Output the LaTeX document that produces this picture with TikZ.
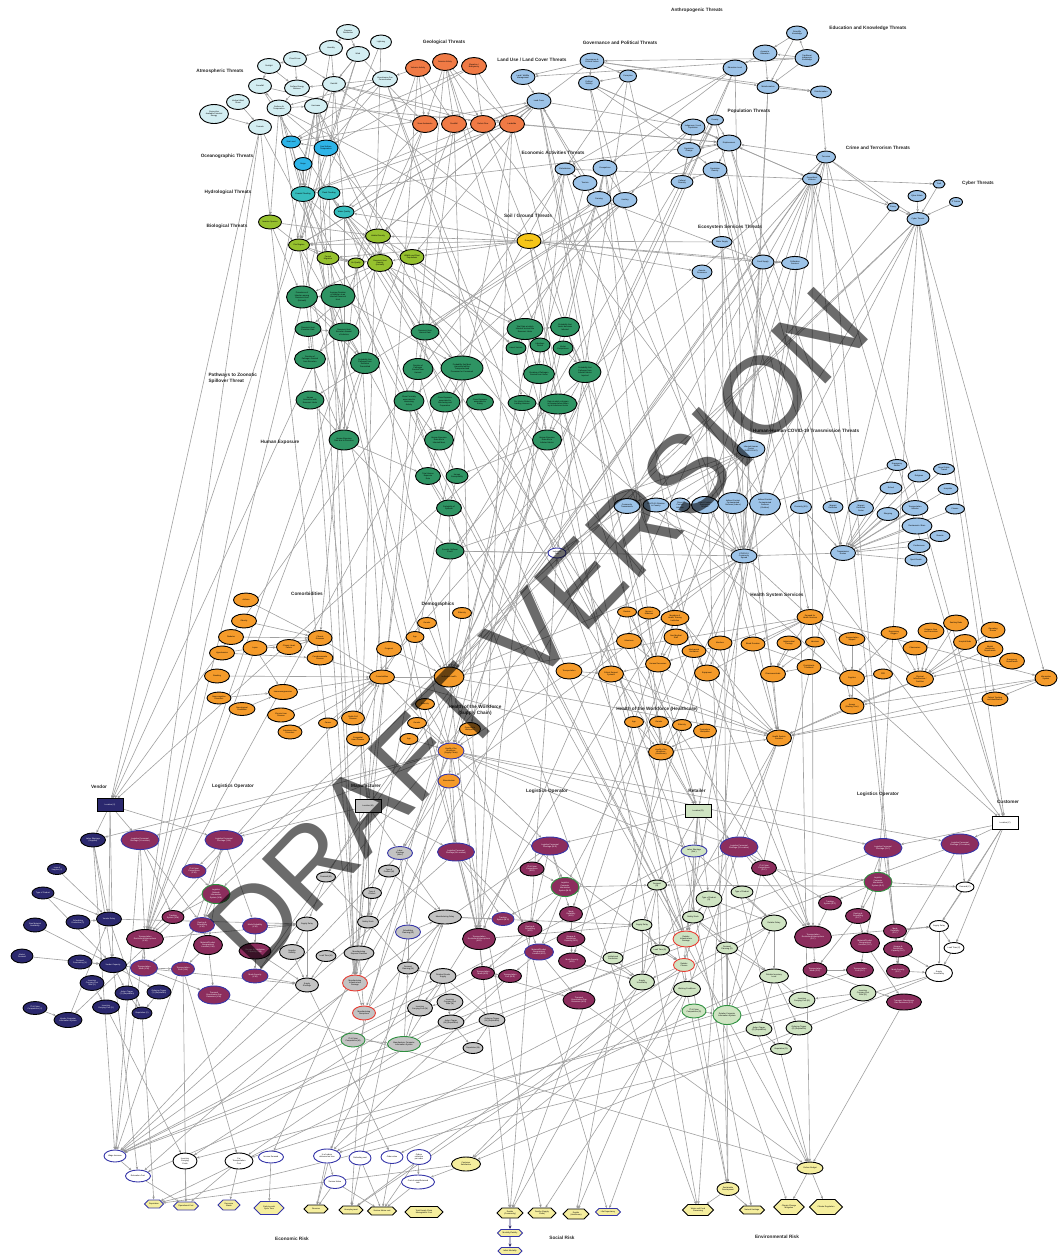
\documentclass[tikz,border=0pt]{standalone}
\usepackage{fontspec}
\setmainfont{Liberation Sans}
\usepackage{tikz}
\usetikzlibrary{shapes.geometric, shapes.symbols, arrows.meta, backgrounds}

\definecolor{atmc}{HTML}{D3EEF2}
\definecolor{geoc}{HTML}{F07A45}
\definecolor{ocec}{HTML}{2DB4E8}
\definecolor{hydc}{HTML}{36BDBD}
\definecolor{bioc}{HTML}{96C12E}
\definecolor{soilc}{HTML}{F5C518}
\definecolor{zooc}{HTML}{2E9463}
\definecolor{antc}{HTML}{9CC3E8}
\definecolor{hltc}{HTML}{F59B2A}
\definecolor{venc}{HTML}{2B286E}
\definecolor{lgoc}{HTML}{8C2D5D}
\definecolor{manc}{HTML}{C3C3C3}
\definecolor{retc}{HTML}{CFE4C2}
\definecolor{rskc}{HTML}{F5EE9E}
\definecolor{edgec}{HTML}{A0A0A0}
\definecolor{bluebd}{HTML}{3535A8}
\definecolor{redbd}{HTML}{E83A30}
\definecolor{greenbd}{HTML}{2E9040}

\begin{document}
\begin{tikzpicture}[
        x=1pt, y=-1pt,
        font=\fontsize{2}{2.4}\selectfont,
        nd/.style = {ellipse, draw=black, line width=0.9pt, inner sep=0pt, align=center, minimum width=23pt, minimum height=15pt},
        sz/.style 2 args = {minimum width=#1pt, minimum height=#2pt},
        atm/.style = {nd, fill=atmc},
        geo/.style = {nd, fill=geoc, sz={25}{17}},
        oce/.style = {nd, fill=ocec},
        hyd/.style = {nd, fill=hydc},
        bio/.style = {nd, fill=bioc},
        soil/.style = {nd, fill=soilc},
        zoo/.style = {nd, fill=zooc},
        ant/.style = {nd, fill=antc},
        hlt/.style = {nd, fill=hltc},
        ven/.style = {nd, fill=venc, text=white},
        lgo/.style = {nd, fill=lgoc, text=white},
        man/.style = {nd, fill=manc},
        ret/.style = {nd, fill=retc},
        cus/.style = {nd, fill=white},
        rsk/.style = {nd, fill=rskc},
        bb/.style = {draw=bluebd},
        rb/.style = {draw=redbd},
        gb/.style = {draw=greenbd},
        hexa/.style = {signal, signal to=east and west, draw=black, line width=0.9pt, fill=rskc, inner sep=0.6pt, align=center},
        locbox/.style = {rectangle, draw=black, line width=0.9pt, minimum width=26pt, minimum height=13pt, inner sep=0pt},
        ttl/.style = {font=\fontsize{4.7}{5.6}\selectfont\bfseries, text=black!85, align=center},
        line/.style = {draw=edgec, line width=0.6pt, -{Stealth[length=3pt, width=2.4pt]}},
        navyline/.style = {draw=venc, line width=0.9pt, -{Stealth[length=3.5pt, width=3pt]}},
        watermark/.style = {font=\fontsize{110}{110}\selectfont, text=black, text opacity=0.58, rotate=46}
    ]
    \useasboundingbox (0,0) rectangle (1058,1256);

    % Threat titles
    \node [ttl] (t_anth) at (697,10) {Anthropogenic Threats};
    \node [ttl] (t_atm) at (220,71) {Atmospheric Threats};
    \node [ttl] (t_geo) at (444,42) {Geological Threats};
    \node [ttl] (t_land) at (532,60) {Land Use / Land Cover Threats};
    \node [ttl] (t_gov) at (620,43) {Governance and Political Threats};
    \node [ttl] (t_edu) at (868,28) {Education and Knowledge Threats};
    \node [ttl] (t_pop) at (749,111) {Population Threats};
    \node [ttl] (t_oce) at (227,156) {Oceanographic Threats};
    \node [ttl] (t_eco) at (553,153) {Economic Activities Threats};
    \node [ttl] (t_crime) at (878,148) {Crime and Terrorism Threats};
    \node [ttl] (t_cyber) at (978,183) {Cyber Threats};
    \node [ttl] (t_hyd) at (228,192) {Hydrological Threats};
    \node [ttl] (t_soil) at (528,216) {Soil / Ground Threats};
    \node [ttl] (t_bio) at (227,226) {Biological Threats};
    \node [ttl] (t_ess) at (730,227) {Ecosystem Services Threats};
    \node [ttl, align=left, anchor=west] (t_zoo) at (205,378) {Pathways to Zoonotic\\Spillover Threat};
    \node [ttl] (t_hexp) at (280,442) {Human Exposure};
    \node [ttl] (t_covid) at (806,431) {Human-Human COVID-19 Transmission Threats};
    \node [ttl] (t_comorb) at (307,594) {Comorbidities};
    \node [ttl] (t_demo) at (438,604) {Demographics};
    \node [ttl] (t_hss) at (777,595) {Health System Services};
    \node [ttl] (t_hwsc) at (475,710) {Health of the Workforce\\(Supply Chain)};
    \node [ttl] (t_hwhc) at (657,709) {Health of the Workforce (Healthcare)};
    \node [ttl] (t_vend) at (99,787) {Vendor};
    \node [ttl] (t_lo1) at (233,786) {Logistics Operator};
    \node [ttl] (t_manu) at (366,786) {Manufacturer};
    \node [ttl] (t_lo2) at (547,791) {Logistics Operator};
    \node [ttl] (t_retl) at (697,791) {Retailer};
    \node [ttl] (t_lo3) at (878,794) {Logistics Operator};
    \node [ttl] (t_cust) at (1008,802) {Customer};
    \node [ttl] (t_econ) at (292,1239) {Economic Risk};
    \node [ttl] (t_soc) at (562,1238) {Social Risk};
    \node [ttl] (t_env) at (777,1237) {Environmental Risk};

    % Atmospheric
    \node [atm] (pres) at (348,32) {Pressure\\Distribution};
    \node [atm, sz={21}{14}] (light) at (381,42) {Lightning};
    \node [atm] (humid) at (331,48) {Humidity};
    \node [atm] (wind) at (358,54) {Wind};
    \node [atm] (cloud) at (295,59) {Cloud Cover};
    \node [atm] (sun) at (269,66) {Sunlight};
    \node [atm] (rain) at (334,84) {Rainfall};
    \node [atm, sz={25}{16}] (ghg) at (385,79) {Greenhouse Gas\\Concentration};
    \node [atm] (snow) at (260,86) {Snowfall};
    \node [atm, sz={25}{16}] (seb) at (297,88) {Surface Energy\\Balance};
    \node [atm] (hurr) at (316,106) {Hurricane};
    \node [atm, sz={24}{16}] (sat) at (279,108) {Surface Air\\Temperature};
    \node [atm] (vws) at (238,102) {Vertical Wind\\Shear};
    \node [atm, sz={29}{19}] (cape) at (214,114) {Convective\\Available Potential\\Energy};
    \node [atm] (torn) at (260,127) {Tornado};

    % Geological
    \node [geo] (volc) at (418,68) {Volcanic Activity};
    \node [geo] (seis) at (445,62) {Seismic Activity};
    \node [geo] (elev) at (474,66) {Elevation /\\Bathymetry};
    \node [geo] (aval) at (425,124) {Snow Avalanche};
    \node [geo] (rockf) at (454,124) {Rockfall};
    \node [geo] (debris) at (483,124) {Debris Flow};
    \node [geo] (lslide) at (512,124) {Landslide};

    % Oceanographic, hydrological, biological, soil
    \node [oce, sz={19}{12}] (slevel) at (291,142) {Sea Level};
    \node [oce, sz={24}{16}] (sst) at (326,148) {Sea Surface\\Temperature};
    \node [oce, sz={18}{13}] (surge) at (303,164) {Surge};
    \node [hyd, sz={24}{15}] (cflood) at (303,194) {Coastal Flooding};
    \node [hyd, sz={22}{13}] (fflood) at (329,193) {Flash Flooding};
    \node [hyd, sz={20}{12}] (wqual) at (344,212) {Water Quality};
    \node [bio, sz={23}{14}] (invas) at (270,222) {Invasive Species};
    \node [bio, sz={21}{12}] (fire) at (299,245) {Fire Regime};
    \node [bio, sz={25}{14}] (habit) at (378,236) {Habitat Density};
    \node [bio, sz={22}{13}] (faunal) at (328,258) {Faunal\\Migration};
    \node [bio, sz={16}{10}] (airq) at (356,263) {Air Quality};
    \node [bio, sz={25}{17}] (rhost) at (380,263) {Reservoir Host\\Density\\(Animals)};
    \node [bio, sz={24}{15}] (wildpop) at (412,257) {Wildlife and Plant\\Populations};
    \node [soil, sz={24}{15}] (drought) at (529,241) {Droughts};

    % Pathways to zoonotic spillover
    \node [zoo, sz={31}{22}] (previnf) at (302,297) {Prevalence of\\Infection among\\Reservoir Host\\(Animals)};
    \node [zoo, sz={34}{23}] (durinf) at (338,296) {Average Duration\\of Infection in an\\Infected Reservoir\\Host};
    \node [zoo, sz={26}{15}] (rhexcr) at (308,329) {Reservoir Host\\Excretion Rate};
    \node [zoo, sz={30}{18}] (rhexcr2) at (344,332) {Reservoir Host\\Excretion Amount\\of Infection};
    \node [zoo, sz={28}{16}] (rhharv) at (425,332) {Reservoir Host\\Harvest Rate};
    \node [zoo, sz={36}{21}] (totrate) at (525,329) {Total Rate at which\\Infected Vectors Bite\\Reservoir Hosts};
    \node [zoo, sz={29}{19}] (probinf) at (565,327) {Probability that\\Vector becomes\\Infected};
    \node [zoo, sz={20}{13}] (insvec) at (516,348) {Insect Vectors};
    \node [zoo, sz={20}{14}] (infper) at (540,345) {Infectious\\Period};
    \node [zoo, sz={20}{14}] (veccomp) at (563,348) {Vector\\Competence};
    \node [zoo, sz={31}{19}] (survexc) at (310,359) {Duration of\\Pathogen Survival\\from Excretion};
    \node [zoo, sz={29}{21}] (probexc) at (365,363) {Probability that\\Pathogen from\\Excretion\\Transmitted};
    \node [zoo, sz={30}{21}] (survharv) at (418,369) {Duration of\\Pathogen\\Survival from\\Harvest};
    \node [zoo, sz={42}{24}] (probmeat) at (462,368) {Probability that Meat\\Harvested will be\\Transported and\\Processed or Consumed};
    \node [zoo, sz={31}{19}] (survvec) at (539,374) {Duration of Pathogen\\Survival from Vector};
    \node [zoo, sz={32}{21}] (probvec) at (585,372) {Probability that\\Pathogen from\\Infected Vector\\Injected};
    \node [zoo, sz={28}{18}] (humint) at (310,400) {Human\\Interaction with\\Reservoir Hosts};
    \node [zoo, sz={30}{20}] (proxharv) at (409,401) {Close Proximity\\associated to\\Harvesting\\Activity};
    \node [zoo, sz={30}{20}] (expbutch) at (445,402) {Close Exposure\\associated to\\Butchering and\\Preparation};
    \node [zoo, sz={27}{16}] (expeat) at (480,402) {Close Exposure\\associated to\\Eating};
    \node [zoo, sz={28}{15}] (vecland) at (522,403) {Per Vector Probe\\Landing Humans};
    \node [zoo, sz={38}{20}] (ratebite) at (558,404) {Rate at which a Human\\is Exposed when Bitten\\by an Infectious Vector};
    \node [zoo, sz={30}{20}] (hexexc) at (344,440) {Human Exposure\\Rate due to Excretion};
    \node [zoo, sz={29}{20}] (hexmeat) at (439,440) {Human Exposure\\Rate due to\\Infected Meat};
    \node [zoo, sz={29}{20}] (hexvec) at (547,440) {Human Exposure\\Rate due to\\Infected Vector};
    \node [zoo, sz={25}{17}] (hexall1) at (428,476) {Total Human\\Exposure\\Rate};
    \node [zoo, sz={22}{15}] (hexall2) at (457,476) {Human\\Susceptibility};
    \node [zoo, sz={25}{16}] (spillprob) at (449,508) {Probability of\\Spillover};
    \node [zoo, sz={28}{16}] (spillover) at (450,551) {Zoonotic Spillover\\Event};

    % Anthropogenic threats
    \node [ant, sz={24}{15}] (landmgmt) at (523,77) {Land / Wildlife\\Management};
    \node [ant, sz={24}{16}] (landcov) at (539,101) {Land Cover};
    \node [ant, sz={24}{16}] (govval) at (592,61) {Governance \&\\Cultural Values};
    \node [ant, sz={21}{14}] (polstab) at (589,83) {Political\\Stability};
    \node [ant, sz={17}{12}] (corrupt) at (628,76) {Corruption};
    \node [ant, sz={21}{14}] (scik) at (797,33) {Scientific\\Knowledge};
    \node [ant, sz={24}{16}] (accedu) at (765,53) {Access to\\Education};
    \node [ant, sz={24}{17}] (tik) at (807,58) {Traditional\\Indigenous\\Knowledge};
    \node [ant, sz={24}{16}] (edulvl) at (735,68) {Education Level};
    \node [ant, sz={22}{13}] (misinf) at (768,87) {Misinformation};
    \node [ant, sz={21}{12}] (disinf) at (821,92) {Disinformation};
    \node [ant, sz={24}{16}] (indig) at (693,127) {Indigenous / Local\\Population};
    \node [ant, sz={17}{10}] (poverty) at (715,120) {Poverty};
    \node [ant, sz={24}{16}] (displ) at (729,143) {Displacement};
    \node [ant, sz={23}{15}] (popchg) at (689,150) {Population\\Change};
    \node [ant, sz={24}{16}] (popden) at (715,170) {Population\\Density};
    \node [ant, sz={22}{13}] (cultdiv) at (682,182) {Cultural\\Diversity};
    \node [ant, sz={20}{12}] (global) at (565,169) {Globalization};
    \node [ant, sz={24}{16}] (occup) at (605,168) {Occupations};
    \node [ant, sz={24}{15}] (tourism) at (585,183) {Tourism};
    \node [ant, sz={24}{15}] (farming) at (599,199) {Farming};
    \node [ant, sz={24}{15}] (hunting) at (625,200) {Hunting};
    \node [ant, sz={19}{12}] (terror) at (826,157) {Terrorism};
    \node [ant, sz={19}{12}] (geoviol) at (812,179) {Geopolitical\\Violence};
    \node [ant, sz={12}{8}] (piracy) at (893,207) {Piracy};
    \node [ant, sz={12}{8}] (theft) at (939,184) {Theft};
    \node [ant, sz={18}{11}] (cyatt) at (917,196) {Cyber Attack};
    \node [ant, sz={13}{9}] (itfail) at (956,202) {IT Failure};
    \node [ant, sz={22}{13}] (cyber) at (918,219) {Cyber Threats};
    \node [ant, sz={20}{11}] (watsup) at (722,242) {Water Supply};
    \node [ant, sz={20}{14}] (genres) at (702,272) {Genetic\\Resources};
    \node [ant, sz={22}{14}] (foodsup) at (763,262) {Food Supply};
    \node [ant, sz={27}{13}] (pollin) at (795,263) {Pollination\\Services};

    % Human-human COVID-19 transmission
    \node [ant, sz={28}{17}] (carrier) at (751,449) {Infected Human\\Carrier\\(SARS-CoV-2)};
    \node [ant, sz={20}{11}] (shelter) at (897,465) {Emergency\\Shelter};
    \node [ant, sz={22}{12}] (religious) at (919,476) {Religious};
    \node [ant, sz={21}{11}] (transit) at (944,469) {Street Public\\Transit};
    \node [ant, sz={22}{12}] (school) at (891,488) {School};
    \node [ant, sz={20}{11}] (hospitals) at (948,489) {Hospitals};
    \node [ant, sz={26}{15}] (commtr) at (627,506) {Community\\Transmission};
    \node [ant, sz={26}{14}] (covsit) at (656,505) {COVID-19 Situation\\in Country};
    \node [ant, sz={20}{14}] (direct) at (680,505) {Direct\\Contact\\Infection};
    \node [ant, sz={27}{17}] (droplet) at (705,505) {Direct Contact\\Respiratory\\Droplets};
    \node [ant, sz={30}{21}] (indoor) at (733,503) {Indirect Contact\\Contaminated\\Surfaces (Indoor)};
    \node [ant, sz={31}{22}] (outdoor) at (765,504) {Indirect Contact\\Contaminated\\Surfaces\\(Outdoor)};
    \node [ant, sz={21}{13}] (prox) at (801,507) {Proximity (6 ft)};
    \node [ant, sz={20}{12}] (migdet) at (833,507) {Migrant\\Detention};
    \node [ant, sz={25}{15}] (migctr) at (861,508) {Migrant\\Detention\\Center};
    \node [ant, sz={22}{13}] (shopping) at (888,514) {Shopping};
    \node [ant, sz={26}{15}] (transveh) at (915,508) {Transportation\\Vehicles};
    \node [ant, sz={19}{10}] (prisons) at (955,509) {Prisons};
    \node [ant, sz={30}{16}] (restbars) at (917,526) {Restaurants / Bars};
    \node [ant, sz={20}{11}] (remote) at (940,536) {Remote};
    \node [ant, sz={22}{13}] (conf) at (919,546) {Conferences};
    \node [ant, sz={22}{12}] (sport) at (916,560) {Sport Events};
    \node [ant, sz={25}{15}] (routes) at (843,553) {Transmission\\Routes};
    \node [ant, sz={26}{14}] (community) at (744,556) {COVID-19\\Community\\Spread};
    \node [cus, bb, sz={18}{10}] (indiv) at (557,553) {Individual\\Risk};

    % Comorbidities and demographics
    \node [hlt, sz={25}{14}] (asthma) at (246,600) {Asthma};
    \node [hlt, sz={25}{14}] (obesity) at (244,621) {Obesity};
    \node [hlt, sz={25}{15}] (diabetes) at (231,637) {Diabetes};
    \node [hlt, sz={24}{15}] (lupus) at (255,648) {Lupus};
    \node [hlt, sz={25}{14}] (hypert) at (222,653) {Hypertension};
    \node [hlt, sz={25}{15}] (chf) at (289,647) {Chronic Heart\\Failure};
    \node [hlt, sz={24}{15}] (chronic) at (320,638) {Chronic\\Diseases};
    \node [hlt, sz={26}{14}] (cerebro) at (320,658) {Cerebrovascular\\Disease};
    \node [hlt, sz={25}{14}] (smoking) at (217,676) {Smoking};
    \node [hlt, sz={25}{14}] (comorb) at (382,677) {Comorbidities};
    \node [hlt, sz={29}{15}] (immuno) at (283,692) {Immunosuppression};
    \node [hlt, sz={24}{12}] (neurocog) at (219,698) {Neurocognitive\\Disorders};
    \node [hlt, sz={26}{13}] (neuro) at (242,709) {Neurological\\Conditions};
    \node [hlt, sz={27}{14}] (liver) at (281,715) {Chronic Liver\\Disease};
    \node [hlt, sz={24}{14}] (substance) at (290,732) {Substance Use\\Disorders};
    \node [hlt, sz={19}{10}] (cancer) at (328,723) {Cancer};
    \node [hlt, sz={23}{14}] (sickle) at (353,718) {Sickle Cell\\Disease};
    \node [hlt, sz={23}{14}] (congen) at (358,739) {Congenital\\Heart Disease};
    \node [hlt, sz={19}{11}] (ethn1) at (462,613) {Ethnicity};
    \node [hlt, sz={19}{11}] (gender1) at (427,623) {Gender};
    \node [hlt, sz={18}{11}] (age1) at (415,637) {Age};
    \node [hlt, sz={25}{15}] (pregnant) at (389,649) {Pregnant};
    \node [hlt, sz={30}{20}] (indhealth) at (449,677) {Individual Health};
    \node [hlt, sz={19}{11}] (ethn2) at (425,704) {Ethnicity};
    \node [hlt, sz={19}{11}] (gender2) at (417,723) {Gender};
    \node [hlt, sz={18}{11}] (age2) at (409,739) {Age};
    \node [hlt, sz={21}{13}] (proxwork) at (470,729) {Proximity to\\Workplace};
    \node [hlt, bb, sz={26}{16}] (hwsc) at (451,751) {Health of the\\Workforce\\(Supply Chain)};
    \node [hlt, bb, sz={22}{14}] (absent) at (449,781) {Absenteeism};

    % Health system services
    \node [hlt, sz={26}{16}] (transp) at (569,671) {Transportation};
    \node [hlt, sz={25}{16}] (critsup) at (611,674) {Critical Support\\Systems};
    \node [hlt, sz={19}{10}] (doctors) at (627,612) {Doctors};
    \node [hlt, sz={22}{12}] (nurses) at (649,613) {Nurses /\\Midwives};
    \node [hlt, sz={28}{15}] (members) at (675,618) {Members of\\Health Training\\Institution};
    \node [hlt, sz={25}{15}] (volunt) at (629,641) {Volunteers};
    \node [hlt, sz={24}{16}] (nonmed) at (676,637) {Non-Medical\\Staff};
    \node [hlt, sz={24}{13}] (ventil) at (694,651) {Mechanical\\Ventilators};
    \node [hlt, sz={24}{14}] (monitors) at (720,643) {Monitors};
    \node [hlt, sz={25}{16}] (humres) at (658,664) {Human Resources};
    \node [hlt, sz={25}{16}] (equip) at (707,673) {Equipment};
    \node [hlt, sz={24}{14}] (blood) at (753,644) {Blood Donation};
    \node [hlt, sz={26}{15}] (demand) at (810,617) {Demand for\\Health Services};
    \node [hlt, sz={24}{14}] (antimic) at (789,643) {Antimicrobial\\Therapy};
    \node [hlt, sz={19}{10}] (vaccines) at (815,642) {Vaccines};
    \node [hlt, sz={24}{15}] (prophyl) at (809,667) {Prophylactic\\Treatment};
    \node [hlt, sz={25}{16}] (pharma) at (773,674) {Pharmaceuticals};
    \node [hlt, sz={26}{13}] (transsup) at (852,639) {Transportation\\Support};
    \node [hlt, sz={25}{16}] (supplies) at (852,678) {Supplies};
    \node [hlt, sz={19}{10}] (ppe) at (883,674) {PPE};
    \node [hlt, sz={24}{16}] (access) at (852,706) {Access\\(Waiting Time)};
    \node [hlt, sz={26}{13}] (oxygen) at (894,633) {Respiratory\\Oxygen};
    \node [hlt, sz={26}{16}] (distance) at (931,631) {Distance Care\\and Prevention};
    \node [hlt, sz={25}{16}] (beds) at (956,623) {Sanitary Beds};
    \node [hlt, sz={24}{14}] (pharmacies) at (915,648) {Pharmacies};
    \node [hlt, sz={23}{15}] (hospbeds) at (965,642) {Hospital Beds};
    \node [hlt, sz={24}{16}] (oprooms) at (993,630) {Operating\\Rooms};
    \node [hlt, sz={26}{16}] (mental) at (990,649) {Mental\\Healthcare\\Departments};
    \node [hlt, sz={25}{16}] (emerg) at (1012,661) {Emergency\\Departments};
    \node [hlt, sz={27}{16}] (physinf) at (920,679) {Physical\\Infrastructure /\\Facilities};
    \node [hlt, sz={22}{16}] (infosys) at (1046,678) {Information\\System};
    \node [hlt, sz={26}{14}] (patient) at (995,699) {Patient Tracking\\and Identification};
    \node [hlt, sz={25}{16}] (hss) at (779,738) {Health System\\Services};
    \node [hlt, sz={19}{11}] (age3) at (634,722) {Age};
    \node [hlt, sz={19}{11}] (gender3) at (659,722) {Gender};
    \node [hlt, sz={19}{11}] (ethn3) at (682,725) {Ethnicity};
    \node [hlt, sz={23}{14}] (proxwork2) at (705,731) {Proximity to\\Workplace};
    \node [hlt, sz={25}{16}] (hwhc) at (661,752) {Health of the\\Workforce\\(Healthcare)};

    % Vendor
    \node [locbox, fill=venc, text=white] (locv) at (110,805) {Location (V)};
    \node [ven, sz={25}{14}] (labsup) at (93,840) {Labor Shortage\\(Supplier)};
    \node [ven, sz={19}{11}] (vloss) at (57,869) {Loss of\\Supplier (V)};
    \node [ven, sz={22}{12}] (vtype) at (43,893) {Type of Product};
    \node [ven, sz={23}{14}] (vraw) at (35,925) {Raw Material\\Availability};
    \node [ven, sz={24}{14}] (vnear) at (78,922) {Scheduling\\Production (V)};
    \node [ven, sz={25}{14}] (vdelay) at (109,919) {Vendor Delay};
    \node [ven, sz={22}{14}] (vmkt) at (22,956) {Market\\Demand};
    \node [ven, sz={24}{14}] (vdem) at (80,962) {Demand\\Forecasting (V)};
    \node [ven, sz={27}{15}] (vcap) at (113,965) {Vendor Capacity};
    \node [ven, sz={24}{15}] (vicr) at (92,983) {Inventory\\Carrying Cost\\Rate (V)};
    \node [ven, sz={27}{14}] (vicc) at (106,1007) {Inventory\\Carrying Cost (V)};
    \node [ven, sz={24}{14}] (vact) at (127,993) {Action Trigger\\(V) (Reputation)};
    \node [ven, sz={24}{14}] (vord) at (159,992) {Ordering Trigger\\(V) (Reputation)};
    \node [ven, sz={20}{12}] (vrep) at (142,1013) {Reputation (V)};
    \node [ven, sz={24}{13}] (vit) at (35,1008) {IT \& Cyber\\Competence (V)};
    \node [ven, sz={28}{15}] (vcis) at (68,1020) {Vendor Computer\\Information System};

    % Logistics operator (vendor - manufacturer)
    \node [lgo, bb, sz={38}{19}] (lpsv) at (140,840) {Logistics Personnel\\Shortage (V-Location)};
    \node [lgo, bb, sz={38}{19}] (lpsvm) at (224,840) {Logistics Personnel\\Shortage (V-M)};
    \node [lgo, bb, sz={24}{14}] (itvm) at (194,871) {IT \& Cyber\\Competence\\(V-M)};
    \node [lgo, gb, sz={28}{19}] (lnvm) at (216,894) {Logistics\\Network\\Information\\System (V-M)};
    \node [lgo, sz={22}{13}] (tsvm) at (173,917) {Tracking\\System (V-M)};
    \node [lgo, bb, sz={25}{15}] (rsvm) at (202,925) {Routing \&\\Scheduling\\(V-M)};
    \node [lgo, bb, sz={25}{16}] (mrvm) at (255,926) {Mode Reliability\\(V-M)};
    \node [lgo, sz={37}{19}] (trvm) at (145,939) {Transportation\\Restrictions/Interruptions\\(V-M)};
    \node [lgo, sz={29}{19}] (mgvm) at (208,945) {Material/Product\\Geographical\\Location (V-M)};
    \node [lgo, sz={32}{16}] (sdvm) at (255,951) {Storage \& Distribution\\Capacity (V-M)};
    \node [lgo, bb, sz={27}{16}] (tmvm) at (144,968) {Transportation\\Mode (V-M)};
    \node [lgo, bb, sz={23}{14}] (tcvm) at (183,969) {Transportation\\Cost (V-M)};
    \node [lgo, bb, sz={26}{14}] (msvm) at (255,976) {Mode Security\\(V-M)};
    \node [lgo, bb, sz={32}{18}] (ghgvm) at (214,995) {Transport\\Greenhouse Gas\\Emissions (V-M)};

    % Manufacturer
    \node [locbox, fill=manc] (locm) at (368,806) {Location (M)};
    \node [man, bb, sz={25}{13}] (labman) at (400,853) {Labor\\Shortage\\(Man.)};
    \node [man, sz={21}{12}] (mtype) at (389,871) {Type of\\Product (M)};
    \node [man, sz={19}{10}] (mdem) at (326,877) {Demand (M)};
    \node [man, sz={19}{11}] (mtype2) at (372,893) {Type of\\Product};
    \node [man, sz={22}{14}] (msupdel) at (307,924) {Supply Delay};
    \node [man, sz={21}{12}] (mss) at (368,922) {Safety Stock};
    \node [man, bb, sz={25}{14}] (msched) at (408,932) {Scheduling\\Planning (M)};
    \node [man, sz={25}{15}] (msupvis) at (292,952) {Supplier\\Visibility};
    \node [man, sz={20}{11}] (mlead) at (326,956) {Lead Time (M)};
    \node [man, sz={30}{14}] (mdisp) at (359,953) {Manufacturing\\Disposal Practices};
    \node [man, sz={21}{12}] (mdplan) at (408,968) {Demand\\Planning (M)};
    \node [man, sz={23}{14}] (msupshort) at (307,985) {Supply\\Shortage};
    \node [man, rb, sz={25}{16}] (minfra) at (355,983) {Manufacturing\\Infrastructure\\Damage};
    \node [man, rb, sz={23}{14}] (mdisr) at (364,1013) {Manufacturing\\Disruptions};
    \node [man, sz={25}{16}] (micc) at (420,1008) {Inventory\\Carrying Cost (M)};
    \node [man, sz={26}{16}] (micr) at (450,1002) {Inventory\\Carrying Cost\\Rate (M)};
    \node [man, sz={26}{14}] (mact) at (451,1022) {Action Trigger\\(M) (Reputation)};
    \node [man, sz={26}{13}] (mord) at (492,1020) {Ordering Trigger\\(M) (Reputation)};
    \node [man, sz={20}{11}] (mrep) at (473,1048) {Reputation (M)};
    \node [man, gb, sz={24}{14}] (mit) at (353,1040) {IT \& Cyber\\Competence (M)};
    \node [man, gb, sz={33}{15}] (mcis) at (404,1044) {Manufacturer Computer\\Information System};
    \node [man, sz={33}{14}] (mdelay) at (445,917) {Manufacturing Delay};
    \node [man, sz={26}{15}] (mfg) at (443,976) {Finished Goods\\Supply};

    % Logistics operator (manufacturer - retailer)
    \node [lgo, bb, sz={37}{18}] (lpsm) at (456,852) {Logistics Personnel\\Shortage (M-Location)};
    \node [lgo, bb, sz={37}{18}] (lpsmr) at (550,846) {Logistics Personnel\\Shortage (M-R)};
    \node [lgo, sz={24}{14}] (itmr) at (532,869) {IT \& Cyber\\Competence\\(M-R)};
    \node [lgo, gb, sz={28}{19}] (lnmr) at (565,887) {Logistics\\Computer\\Information\\System (M-R)};
    \node [lgo, bb, sz={22}{13}] (tsmr) at (503,919) {Tracking\\System (M-R)};
    \node [lgo, sz={23}{15}] (mrmr) at (571,914) {Mode\\Reliability\\(M-R)};
    \node [lgo, sz={24}{15}] (rsmr) at (530,929) {Routing \&\\Scheduling\\(M-R)};
    \node [lgo, sz={33}{21}] (trmr) at (479,939) {Transportation\\Restrictions/Interruptions\\(M-R)};
    \node [lgo, sz={28}{15}] (sdmr) at (571,939) {Storage \&\\Distribution\\Capacity (M-R)};
    \node [lgo, bb, sz={29}{16}] (mgmr) at (539,952) {Material/Product\\Geographical\\Location (M-R)};
    \node [lgo, sz={27}{16}] (msmr) at (572,961) {Mode Security\\(M-R)};
    \node [lgo, sz={23}{13}] (tmmr) at (483,973) {Transportation\\Mode (M-R)};
    \node [lgo, sz={23}{13}] (tcmr) at (510,976) {Transportation\\Cost (M-R)};
    \node [lgo, sz={32}{18}] (ghgmr) at (579,1000) {Transport\\Greenhouse Gas\\Emissions (M-R)};

    % Retailer
    \node [locbox, fill=retc] (locr) at (698,811) {Location (R)};
    \node [ret, bb, sz={26}{12}] (labret) at (694,851) {Labor Shortage\\(Ret.)};
    \node [ret, sz={19}{10}] (rdem) at (657,885) {Demand\\(R)};
    \node [ret, sz={26}{16}] (rtype) at (709,899) {Type of Product\\(R)};
    \node [ret, sz={22}{12}] (rtype2) at (742,892) {Type of Product};
    \node [ret, sz={21}{12}] (rss) at (693,917) {Safety Stock};
    \node [ret, sz={20}{11}] (rsc) at (642,925) {Supply Delay};
    \node [ret, sz={19}{10}] (rlead) at (660,950) {Lead Time (R)};
    \node [ret, sz={20}{12}] (rinst) at (613,958) {Institutional\\Production};
    \node [ret, sz={25}{16}] (rsu) at (642,982) {Supply\\Uncertainty};
    \node [ret, sz={21}{12}] (rdplan) at (727,948) {Demand\\Planning (R)};
    \node [ret, sz={25}{16}] (rdelay) at (774,923) {Retailer Delay};
    \node [ret, sz={29}{14}] (rinv) at (774,976) {Retailer Inventory\\Level};
    \node [ret, sz={27}{15}] (rwork) at (687,989) {Working Conditions};
    \node [ret, gb, sz={24}{14}] (rit) at (694,1011) {IT \& Cyber\\Competence (R)};
    \node [ret, gb, sz={28}{19}] (rcis) at (727,1015) {Retailer Computer\\Information System};
    \node [ret, sz={26}{14}] (ract) at (759,1029) {Action Trigger\\(R) (Reputation)};
    \node [ret, sz={26}{14}] (rord) at (799,1028) {Ordering Trigger\\(R) (Reputation)};
    \node [ret, sz={21}{11}] (rrep) at (781,1049) {Reputation (R)};
    \node [ret, sz={26}{16}] (ricc) at (802,1000) {Inventory\\Carrying Cost (R)};
    \node [ret, sz={26}{16}] (ricr) at (863,993) {Inventory\\Carrying Cost\\Rate (R)};
    \node [ret, rb, sz={26}{16}] (rinfra) at (686,939) {Retailer\\Infrastructure\\Damage};
    \node [ret, rb, sz={21}{13}] (rclose) at (684,965) {Retailer\\Closure};

    % Logistics operator (retailer - customer)
    \node [lgo, bb, sz={38}{20}] (lpsr) at (739,847) {Logistics Personnel\\Shortage (R-Location)};
    \node [lgo, bb, sz={38}{19}] (lpsrc) at (883,848) {Logistics Personnel\\Shortage (R-C)};
    \node [lgo, bb, sz={38}{20}] (lpsc) at (960,844) {Logistics Personnel\\Shortage (C-Location)};
    \node [lgo, sz={25}{15}] (itrc) at (764,868) {IT \& Cyber\\Competence\\(R-C)};
    \node [lgo, gb, sz={28}{19}] (lnrc) at (878,882) {Logistics\\Computer\\Information\\System (R-C)};
    \node [lgo, sz={23}{14}] (tsrc) at (830,903) {Tracking\\System (R-C)};
    \node [lgo, sz={25}{15}] (rsrc) at (858,916) {Routing \&\\Scheduling\\(R-C)};
    \node [lgo, sz={37}{22}] (trrc) at (813,937) {Transportation\\Restrictions/Interruptions\\(R-C)};
    \node [lgo, sz={23}{14}] (mrrc) at (895,931) {Mode\\Reliability\\(R-C)};
    \node [lgo, sz={29}{19}] (mgrc) at (865,943) {Material/Product\\Geographical\\Location (R-C)};
    \node [lgo, sz={29}{16}] (sdrc) at (898,949) {Storage \&\\Distribution\\Capacity (R-C)};
    \node [lgo, sz={24}{15}] (tmrc) at (815,970) {Transportation\\Mode (R-C)};
    \node [lgo, sz={27}{15}] (tcrc) at (860,970) {Transportation\\Cost (R-C)};
    \node [lgo, sz={23}{14}] (msrc) at (898,971) {Mode Security\\(R-C)};
    \node [lgo, sz={35}{16}] (ghgrc) at (904,1002) {Transport Greenhouse\\Gas Emissions (R-C)};

    % Customer
    \node [locbox, fill=white] (locc) at (1005,823) {Location (C)};
    \node [cus, sz={18}{10}] (cdem) at (965,887) {Demand (C)};
    \node [cus, sz={19}{11}] (csc) at (939,926) {Supply Delay};
    \node [cus, sz={20}{11}] (clead) at (954,948) {Lead Time (C)};
    \node [cus, sz={27}{17}] (csu) at (939,973) {Supply\\Uncertainty};

    % Economic, social and environmental risk
    \node [cus, bb, sz={22}{12}] (wage) at (115,1156) {Wage Increase};
    \node [cus, bb, sz={25}{12}] (reloc) at (138,1176) {Relocation Cost};
    \node [cus, sz={24}{16}] (invcost) at (185,1161) {Inventory\\Carrying\\Costs};
    \node [cus, sz={28}{16}] (pertrans) at (239,1161) {Per\\Transportation\\Cost};
    \node [cus, bb, sz={25}{12}] (income) at (271,1157) {Income Demand};
    \node [cus, bb, sz={27}{14}] (ontime) at (327,1156) {\% of orders\\delivered on time};
    \node [cus, bb, sz={22}{14}] (refund) at (360,1158) {Refunding cost};
    \node [cus, bb, sz={22}{13}] (ordval) at (392,1157) {Order value};
    \node [cus, bb, sz={24}{15}] (orders) at (419,1157) {Orders\\collection\\per order};
    \node [cus, bb, sz={22}{13}] (servfail) at (335,1182) {Service failure};
    \node [cus, bb, sz={33}{14}] (costsales) at (418,1182) {Cost of sales/Returned\\rate};
    \node [rsk, sz={29}{14}] (custsat) at (466,1164) {Customer\\Satisfaction};
    \node [hexa, draw=bluebd, minimum width=17pt, minimum height=8pt] (hxrep) at (154,1204) {Reputation};
    \node [hexa, draw=bluebd, minimum width=25pt, minimum height=8pt] (hxop) at (186,1206) {Operational Cost};
    \node [hexa, draw=bluebd, minimum width=22pt, minimum height=10pt] (hxwaste) at (229,1205) {Resource\\Waste};
    \node [hexa, draw=bluebd, minimum width=30pt, minimum height=13pt] (hxcash) at (269,1208) {Cash-to-cash\\Cycle Time};
    \node [hexa, minimum width=24pt, minimum height=8pt] (hxrev) at (316,1209) {Revenue};
    \node [hexa, minimum width=24pt, minimum height=8pt] (hxunemp) at (351,1210) {Unemployment};
    \node [hexa, minimum width=29pt, minimum height=8pt] (hxsfc) at (382,1211) {Service failure cost};
    \node [hexa, minimum width=38pt, minimum height=11pt] (hxtotal) at (424,1212) {Total Supply Chain\\Management Cost};
    \node [hexa, minimum width=26pt, minimum height=10pt] (hxdeathc) at (510,1213) {Deaths\\(Community)};
    \node [hexa, draw=bluebd, minimum width=25pt, minimum height=7pt] (hxmorb) at (510,1233) {Mortality/Fatality};
    \node [hexa, draw=bluebd, minimum width=24pt, minimum height=7pt] (hxinfant) at (510,1251) {Infant Mortality};
    \node [hexa, minimum width=28pt, minimum height=10pt] (hxdeaths) at (542,1213) {Deaths (Supply\\Chain)};
    \node [hexa, minimum width=26pt, minimum height=10pt] (hxdeathh) at (576,1214) {Deaths\\(Healthcare)};
    \node [hexa, draw=bluebd, minimum width=25pt, minimum height=7pt] (hxlife) at (608,1212) {Life Expectancy};
    \node [rsk, sz={22}{13}] (sustdev) at (728,1189) {Sustainable\\Development};
    \node [rsk, sz={26}{12}] (carbon) at (810,1168) {Carbon Budget};
    \node [hexa, minimum width=31pt, minimum height=11pt] (hxwater) at (698,1210) {Water and Food\\Processing};
    \node [hexa, minimum width=25pt, minimum height=8pt] (hxnat) at (752,1210) {Natural Heritage};
    \node [hexa, minimum width=28pt, minimum height=15pt] (hxclim) at (789,1207) {Climate Change\\Mitigation};
    \node [hexa, minimum width=28pt, minimum height=15pt] (hxclimreg) at (826,1207) {Climate Regulation};

    % Edges
    \begin{scope}[on background layer]
    % natural threats
    \path [line] (pres) edge (wind) edge (humid);
    \path [line] (humid) edge (cloud) edge (rain) edge (fire);
    \path [line] (wind) edge (rain) edge (hurr) edge (fire) edge (aval) edge (locv);
    \path [line] (light) edge (fire) edge (minfra);
    \path [line] (cloud) edge (sun) edge (seb) edge (rain);
    \path [line] (sun) edge (seb) edge (snow);
    \path [line] (ghg) edge (seb) edge (sat) edge (sst) edge (slevel) edge (carbon) edge (hxclim);
    \path [line] (seb) edge (sat);
    \path [line] (snow) edge (aval) edge (fflood);
    \path [line] (rain) edge (fflood) edge (cflood) edge (lslide) edge (debris) edge (drought) edge (wqual);
    \path [line] (sat) edge (hurr) edge (sst) edge (drought) edge (fire) edge (invas) edge (faunal) edge (snow) edge (hwsc);
    \path [line] (hurr) edge (surge) edge (cflood) edge (trvm) edge (minfra) edge (rinfra) edge (locm) edge (locr) edge (displ);
    \path [line] (vws) edge (torn);
    \path [line] (cape) edge (torn);
    \path [line] (torn) edge (minfra) edge (locv) edge (trvm) edge (rinfra);
    \path [line] (slevel) edge (cflood) edge (landcov);
    \path [line] (sst) edge (hurr) edge (slevel) edge (wildpop);
    \path [line] (surge) edge (cflood);
    \path [line] (cflood) edge (minfra) edge (rinfra) edge (trmr) edge (landcov) edge (displ) edge (locc);
    \path [line] (fflood) edge (wqual) edge (trvm) edge (trrc) edge (locr) edge (minfra);
    \path [line] (wqual) edge (rhost) edge (hexexc) edge (insvec) edge (hss) edge (hxwater);
    \path [line] (invas) edge (fire) edge (habit) edge (previnf);
    \path [line] (fire) edge (faunal) edge (airq) edge (landcov) edge (locm) edge (carbon) edge (trmr);
    \path [line] (habit) edge (rhost) edge (fire) edge (totrate);
    \path [line] (faunal) edge (airq) edge (rhost) edge (durinf);
    \path [line] (airq) edge (chronic) edge (indhealth) edge (comorb);
    \path [line] (rhost) edge (previnf) edge (rhexcr) edge (rhharv) edge (totrate);
    \path [line] (wildpop) edge (rhost) edge (totrate) edge (insvec) edge (rhharv);
    \path [line] (drought) edge (fire) edge (wqual) edge (habit) edge (farming) edge (displ) edge (wildpop) edge (watsup) edge (foodsup) edge (pollin) edge (genres) edge (sustdev) edge (hxwater) edge (faunal);
    \path [line] (volc) edge (airq) edge (aval) edge (rockf) edge (ghg) edge (minfra);
    \path [line] (seis) edge (lslide) edge (rockf) edge (debris) edge (aval) edge (minfra) edge (rinfra) edge (locr);
    \path [line] (elev) edge (debris) edge (lslide) edge (slevel) edge (sst);
    \path [line] (aval) edge (trvm) edge (locv) edge (wqual);
    \path [line] (rockf) edge (trmr) edge (locm) edge (trvm);
    \path [line] (debris) edge (trrc) edge (landcov) edge (wqual) edge (locc);
    \path [line] (lslide) edge (landcov) edge (trmr) edge (locr) edge (displ) edge (minfra) edge (habit) edge (cflood);

    % anthropogenic threats
    \path [line] (landmgmt) edge (landcov);
    \path [line] (landcov) edge (habit) edge (lslide) edge (indig) edge (wildpop) edge (fire) edge (sustdev) edge (carbon) edge (hxnat);
    \path [line] (govval) edge (landmgmt) edge (landcov) edge (polstab) edge (misinf) edge (disinf) edge (corrupt);
    \path [line] (corrupt) edge (polstab) edge (global) edge (hss) edge (indiv);
    \path [line] (polstab) edge (displ) edge (occup) edge (popchg) edge (geoviol) edge (hss);
    \path [line] (scik) edge (accedu) edge (misinf);
    \path [line] (tik) edge (accedu) edge (scik) edge (govval) edge (misinf) edge (landmgmt);
    \path [line] (accedu) edge (edulvl) edge (misinf);
    \path [line] (edulvl) edge (global) edge (occup) edge (indhealth) edge (hwsc) edge (community);
    \path [line] (misinf) edge (disinf) edge (community) edge (carrier);
    \path [line] (disinf) edge (terror);
    \path [line] (indig) edge (displ) edge (cultdiv) edge (hunting) edge (farming) edge (popchg);
    \path [line] (poverty) edge (displ) edge (indhealth) edge (comorb) edge (access);
    \path [line] (displ) edge (popchg) edge (migdet) edge (migctr) edge (popden);
    \path [line] (popchg) edge (cultdiv) edge (popden);
    \path [line] (popden) edge (community) edge (demand) edge (prox) edge (cultdiv) edge (routes);
    \path [line] (global) edge (trvm) edge (trmr) edge (trrc) edge (locv) edge (tourism) edge (hxunemp);
    \path [line] (occup) edge (hunting) edge (farming) edge (hwsc) edge (proxwork) edge (proxwork2) edge (hwhc);
    \path [line] (tourism) edge (community) edge (landcov) edge (hxrev);
    \path [line] (farming) edge (rhharv) edge (totrate) edge (landcov) edge (foodsup);
    \path [line] (hunting) edge (rhharv) edge (proxharv) edge (expbutch) edge (humint);
    \path [line] (terror) edge (geoviol) edge (displ) edge (locv) edge (locm) edge (locr) edge (locc) edge (msvm) edge (msmr) edge (msrc) edge (piracy) edge (cyber);
    \path [line] (geoviol) edge (trvm) edge (trmr) edge (trrc) edge (minfra) edge (rinfra) edge (locc) edge (piracy) edge (displ) edge (global) edge (theft) edge (mrrc) edge (mrmr);
    \path [line] (piracy) edge (cyber) edge (msvm);
    \path [line] (theft) edge (cyber);
    \path [line] (cyatt) edge (cyber);
    \path [line] (itfail) edge (cyber);
    \path [line] (cyber) edge (lnvm) edge (lnmr) edge (lnrc) edge (vcis) edge (mcis) edge (rcis) edge (infosys) edge (patient) edge (locc);
    \path [line] (watsup) edge (sustdev) edge (hss);
    \path [line] (genres) edge (pharma) edge (sustdev);
    \path [line] (foodsup) edge (hxwater) edge (indhealth);
    \path [line] (pollin) edge (foodsup) edge (carbon);

    % zoonotic spillover
    \path [line] (previnf) edge (rhexcr2) edge (probexc);
    \path [line] (durinf) edge (previnf) edge (rhexcr2) edge (probmeat);
    \path [line] (rhexcr) edge (rhexcr2) edge (survexc);
    \path [line] (rhexcr2) edge (probexc) edge (survexc);
    \path [line] (rhharv) edge (survharv) edge (probmeat);
    \path [line] (totrate) edge (probinf) edge (survvec);
    \path [line] (probinf) edge (probvec);
    \path [line] (insvec) edge (vecland) edge (totrate);
    \path [line] (infper) edge (survvec);
    \path [line] (veccomp) edge (probvec);
    \path [line] (survexc) edge (hexexc);
    \path [line] (probexc) edge (hexexc);
    \path [line] (humint) edge (hexexc);
    \path [line] (survharv) edge (hexmeat);
    \path [line] (probmeat) edge (hexmeat);
    \path [line] (proxharv) edge (hexmeat);
    \path [line] (expbutch) edge (hexmeat);
    \path [line] (expeat) edge (hexmeat);
    \path [line] (survvec) edge (hexvec);
    \path [line] (probvec) edge (hexvec);
    \path [line] (vecland) edge (hexvec);
    \path [line] (ratebite) edge (hexvec);
    \path [line] (hexexc) edge (hexall1) edge (spillover);
    \path [line] (hexmeat) edge (hexall1) edge (hexall2);
    \path [line] (hexvec) edge (hexall2) edge (spillover);
    \path [line] (hexall1) edge (spillprob);
    \path [line] (hexall2) edge (spillprob);
    \path [line] (spillprob) edge (spillover);
    \path [line] (spillover) edge (carrier) edge (indiv) edge (indhealth) edge (community);

    % covid-19 transmission
    \path [line] (carrier) edge (commtr) edge (covsit) edge (direct) edge (droplet) edge (indoor) edge (outdoor);
    \path [line] (outdoor) edge (shelter) edge (community);
    \path [line] (shelter) edge (routes);
    \path [line] (religious) edge (routes);
    \path [line] (transit) edge (routes);
    \path [line] (school) edge (routes);
    \path [line] (hospitals) edge (routes);
    \path [line] (shopping) edge (routes);
    \path [line] (transveh) edge (routes);
    \path [line] (prisons) edge (routes);
    \path [line] (restbars) edge (routes);
    \path [line] (remote) edge (routes);
    \path [line] (conf) edge (routes);
    \path [line] (sport) edge (routes);
    \path [line] (migdet) edge (routes);
    \path [line] (migctr) edge (routes);
    \path [line] (prox) edge (routes) edge (community);
    \path [line] (routes) edge (community);
    \path [line] (commtr) edge (community) edge (indiv);
    \path [line] (covsit) edge (community);
    \path [line] (direct) edge (community);
    \path [line] (droplet) edge (community);
    \path [line] (indoor) edge (community);
    \path [line] (community) edge (indhealth) edge (hwsc) edge (hwhc) edge (demand) edge (absent) edge (hxdeathc);
    \path [line] (indiv) edge (indhealth) edge (hxdeathc);

    % health
    \path [line] (asthma) edge (chronic);
    \path [line] (obesity) edge (chronic);
    \path [line] (diabetes) edge (chronic);
    \path [line] (lupus) edge (chf) edge (immuno);
    \path [line] (hypert) edge (chronic) edge (cerebro);
    \path [line] (chf) edge (chronic);
    \path [line] (chronic) edge (comorb);
    \path [line] (cerebro) edge (comorb);
    \path [line] (smoking) edge (comorb);
    \path [line] (immuno) edge (comorb);
    \path [line] (neurocog) edge (immuno);
    \path [line] (neuro) edge (immuno);
    \path [line] (liver) edge (comorb);
    \path [line] (substance) edge (comorb);
    \path [line] (cancer) edge (comorb);
    \path [line] (sickle) edge (comorb);
    \path [line] (congen) edge (comorb);
    \path [line] (comorb) edge (indhealth) edge (hwsc) edge (hwhc);
    \path [line] (ethn1) edge (indhealth);
    \path [line] (gender1) edge (indhealth);
    \path [line] (age1) edge (indhealth);
    \path [line] (pregnant) edge (indhealth);
    \path [line] (ethn2) edge (hwsc);
    \path [line] (gender2) edge (hwsc);
    \path [line] (age2) edge (hwsc);
    \path [line] (proxwork) edge (hwsc);
    \path [line] (indhealth) edge (hxdeathc) edge (hss) edge (demand) edge (hxlife);
    \path [line] (hwsc) edge (absent) edge (labsup) edge (labman) edge (labret) edge (lpsv) edge (lpsvm) edge (lpsm) edge (lpsmr) edge (lpsr) edge (lpsrc) edge (lpsc) edge (hxdeaths) edge (income);
    \path [line] (absent) edge (labman) edge (lpsm) edge (mdisr) edge (rclose);
    \path [line] (doctors) edge (humres);
    \path [line] (nurses) edge (humres);
    \path [line] (members) edge (humres);
    \path [line] (volunt) edge (humres);
    \path [line] (nonmed) edge (humres);
    \path [line] (ventil) edge (equip);
    \path [line] (monitors) edge (equip);
    \path [line] (transp) edge (critsup) edge (hss);
    \path [line] (blood) edge (supplies);
    \path [line] (humres) edge (hss) edge (critsup);
    \path [line] (equip) edge (hss);
    \path [line] (critsup) edge (hss);
    \path [line] (demand) edge (humres) edge (equip) edge (pharma) edge (supplies) edge (physinf) edge (infosys) edge (blood);
    \path [line] (antimic) edge (pharma);
    \path [line] (vaccines) edge (pharma);
    \path [line] (prophyl) edge (pharma);
    \path [line] (pharma) edge (hss);
    \path [line] (transsup) edge (supplies);
    \path [line] (supplies) edge (access);
    \path [line] (ppe) edge (supplies);
    \path [line] (oxygen) edge (physinf) edge (supplies);
    \path [line] (distance) edge (physinf);
    \path [line] (beds) edge (physinf);
    \path [line] (pharmacies) edge (physinf);
    \path [line] (hospbeds) edge (physinf);
    \path [line] (oprooms) edge (physinf);
    \path [line] (mental) edge (physinf);
    \path [line] (emerg) edge (physinf);
    \path [line] (physinf) edge (access) edge (hss);
    \path [line] (infosys) edge (patient) edge (access) edge (hss);
    \path [line] (patient) edge (hss);
    \path [line] (access) edge (hss);
    \path [line] (age3) edge (hwhc);
    \path [line] (gender3) edge (hwhc);
    \path [line] (ethn3) edge (hwhc);
    \path [line] (proxwork2) edge (hwhc);
    \path [line] (hwhc) edge (hss) edge (hxdeathh);
    \path [line] (hss) edge (hxdeathc) edge (hxlife) edge (hxdeathh);

    % vendor
    \path [line] (locv) edge (labsup) edge (lpsv) edge (vdelay) edge (vcap) edge (lpsvm);
    \path [line] (labsup) edge (vdelay) edge (vcap) edge (wage);
    \path [line] (vloss) edge (vdelay);
    \path [line] (vtype) edge (vdelay) edge (vcap);
    \path [line] (vraw) edge (vcap);
    \path [line] (vnear) edge (vdelay);
    \path [line] (vdelay) edge (msupdel) edge (vrep);
    \path [line] (vmkt) edge (vcap);
    \path [line] (vdem) edge (vcap);
    \path [line] (vcap) edge (vact) edge (vord) edge (msupshort) edge (reloc);
    \path [line] (vicr) edge (vicc);
    \path [line] (vicc) edge (invcost);
    \path [line] (vact) edge (vrep);
    \path [line] (vord) edge (vrep);
    \path [line] (vrep) edge (hxrep);
    \path [line] (vit) edge (vcis);
    \path [line] (vcis) edge (vdelay);
    \path [line] (lpsv) edge (tsvm) edge (rsvm) edge (trvm) edge (wage);
    \path [line] (lpsvm) edge (itvm) edge (rsvm) edge (mrvm) edge (wage);
    \path [line] (itvm) edge (lnvm);
    \path [line] (lnvm) edge (tsvm) edge (rsvm) edge (mgvm);
    \path [line] (tsvm) edge (trvm);
    \path [line] (rsvm) edge (mgvm) edge (tmvm);
    \path [line] (mrvm) edge (sdvm) edge (msupdel);
    \path [line] (trvm) edge (tmvm) edge (msupdel) edge (wage);
    \path [line] (mgvm) edge (tcvm) edge (ghgvm);
    \path [line] (sdvm) edge (msupshort) edge (msvm);
    \path [line] (tmvm) edge (tcvm) edge (ghgvm);
    \path [line] (tcvm) edge (pertrans) edge (hxop);
    \path [line] (msvm) edge (msupshort);
    \path [line] (ghgvm) edge (carbon);

    % manufacturer
    \path [line] (locm) edge (labman) edge (mdem) edge (lpsvm) edge (lpsm) edge (minfra) edge (mss);
    \path [line] (labman) edge (mdelay) edge (msched) edge (wage);
    \path [line] (mtype) edge (mss) edge (mdelay);
    \path [line] (mdem) edge (msupdel) edge (mss);
    \path [line] (mtype2) edge (mss);
    \path [line] (msupdel) edge (msupshort) edge (msupvis);
    \path [line] (mss) edge (mdplan) edge (mdisp) edge (mlead);
    \path [line] (msched) edge (mdelay) edge (mdplan);
    \path [line] (msupvis) edge (msupshort);
    \path [line] (mlead) edge (msupshort);
    \path [line] (mdisp) edge (mdisr);
    \path [line] (mdplan) edge (mfg);
    \path [line] (minfra) edge (mdisr) edge (reloc);
    \path [line] (mdisr) edge (mdelay) edge (mfg) edge (hxunemp);
    \path [line] (mfg) edge (micc) edge (mact) edge (mord);
    \path [line] (micr) edge (micc);
    \path [line] (micc) edge (invcost);
    \path [line] (mact) edge (mrep);
    \path [line] (mord) edge (mrep);
    \path [line] (mrep) edge (hxrep);
    \path [line] (mit) edge (mcis);
    \path [line] (mcis) edge (mdelay) edge (mdplan);
    \path [line] (mdelay) edge (rsc) edge (tsmr) edge (ontime);
    \path [line] (msupshort) edge (ordval);
    \path [line] (lpsm) edge (tsmr) edge (trmr) edge (rsmr) edge (wage);
    \path [line] (lpsmr) edge (itmr) edge (mrmr) edge (rsmr) edge (lnmr) edge (wage);
    \path [line] (itmr) edge (lnmr);
    \path [line] (lnmr) edge (tsmr) edge (rsmr) edge (mgmr) edge (rdem);
    \path [line] (rsmr) edge (mgmr) edge (tmmr);
    \path [line] (mrmr) edge (sdmr);
    \path [line] (trmr) edge (tmmr) edge (rsc);
    \path [line] (sdmr) edge (msmr) edge (rsu);
    \path [line] (mgmr) edge (tcmr) edge (ghgmr);
    \path [line] (msmr) edge (rsu);
    \path [line] (tmmr) edge (tcmr) edge (ghgmr);
    \path [line] (tcmr) edge (pertrans) edge (ontime);
    \path [line] (ghgmr) edge (carbon);

    % retailer and customer
    \path [line] (locr) edge (labret) edge (lpsr) edge (lpsmr) edge (rdem) edge (rinfra) edge (rss) edge (rtype);
    \path [line] (labret) edge (rdelay) edge (rss) edge (wage);
    \path [line] (rdem) edge (rsc) edge (rlead) edge (rsu);
    \path [line] (rtype) edge (rdelay) edge (rss);
    \path [line] (rtype2) edge (rdelay);
    \path [line] (rss) edge (rdplan) edge (rinv) edge (rinfra);
    \path [line] (rsc) edge (rsu) edge (rlead);
    \path [line] (rlead) edge (rclose);
    \path [line] (rinst) edge (rsu);
    \path [line] (rinfra) edge (rclose) edge (reloc);
    \path [line] (rclose) edge (rsu) edge (rwork) edge (hxunemp);
    \path [line] (rdplan) edge (rinv);
    \path [line] (rdelay) edge (rinv) edge (ontime) edge (hxunemp);
    \path [line] (rinv) edge (ricc) edge (ract) edge (rord) edge (ordval);
    \path [line] (rit) edge (rcis);
    \path [line] (rcis) edge (rdelay) edge (rdplan);
    \path [line] (ract) edge (rrep);
    \path [line] (rord) edge (rrep);
    \path [line] (ricr) edge (ricc);
    \path [line] (ricc) edge (invcost);
    \path [line] (rrep) edge (hxrep);
    \path [line] (rsu) edge (custsat);
    \path [line] (rwork) edge (custsat) edge (hxdeaths);
    \path [line] (lpsr) edge (itrc) edge (tsrc) edge (trrc) edge (wage);
    \path [line] (lpsrc) edge (lnrc) edge (mrrc) edge (rsrc) edge (wage);
    \path [line] (lpsc) edge (cdem) edge (sdrc) edge (wage);
    \path [line] (itrc) edge (lnrc);
    \path [line] (lnrc) edge (tsrc) edge (rsrc) edge (mgrc) edge (cdem);
    \path [line] (tsrc) edge (trrc);
    \path [line] (rsrc) edge (mgrc) edge (tmrc);
    \path [line] (mrrc) edge (sdrc) edge (csc);
    \path [line] (trrc) edge (tmrc) edge (csc);
    \path [line] (mgrc) edge (tcrc) edge (ghgrc);
    \path [line] (sdrc) edge (msrc) edge (csu);
    \path [line] (tmrc) edge (tcrc) edge (ghgrc);
    \path [line] (tcrc) edge (pertrans);
    \path [line] (msrc) edge (csu);
    \path [line] (ghgrc) edge (carbon);
    \path [line] (locc) edge (lpsc) edge (lpsrc) edge (cdem) edge (csc) edge (clead);
    \path [line] (cdem) edge (csc) edge (rdem);
    \path [line] (csc) edge (csu) edge (clead);
    \path [line] (clead) edge (csu);
    \path [line] (csu) edge (custsat) edge (ontime);

    % risk
    \path [line] (wage) edge (reloc);
    \path [line] (reloc) edge (hxop);
    \path [line] (invcost) edge (hxop);
    \path [line] (pertrans) edge (hxwaste) edge (hxop);
    \path [line] (income) edge (hxcash);
    \path [line] (ontime) edge (servfail) edge (hxrev);
    \path [line] (refund) edge (hxsfc);
    \path [line] (ordval) edge (hxsfc);
    \path [line] (orders) edge (costsales) edge (hxsfc);
    \path [line] (servfail) edge (hxrev) edge (hxsfc);
    \path [line] (costsales) edge (hxsfc);
    \path [line] (custsat) edge (costsales) edge (hxrep);
    \path [line] (sustdev) edge (hxwater) edge (hxnat);
    \path [line] (carbon) edge (hxclim) edge (hxclimreg);
    \path [navyline] (hxdeathc) edge (hxmorb);
    \path [navyline] (hxmorb) edge (hxinfant);
    \end{scope}

    % Watermark
    \node [watermark] (draft) at (538,628) {DRAFT VERSION};

\end{tikzpicture}
\end{document}
